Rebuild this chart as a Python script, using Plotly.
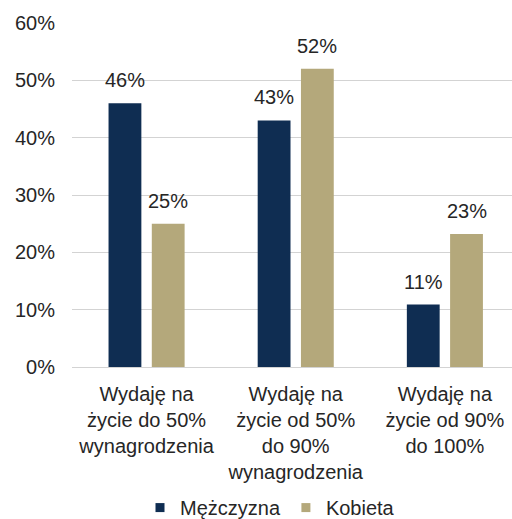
import plotly.graph_objects as go

categories = [
    "Wydaję na<br>życie do 50%<br>wynagrodzenia",
    "Wydaję na<br>życie od 50%<br>do 90%<br>wynagrodzenia",
    "Wydaję na<br>życie od 90%<br>do 100%",
]
men = [0.46, 0.43, 0.109]
women = [0.25, 0.52, 0.232]
series_names = ["Mężczyzna", "Kobieta"]
colors = ["#0F2D52", "#B4A87B"]

xpos = list(range(len(categories)))
bar_w = 0.22
offsets = [-0.255, 0.035]

fig = go.Figure()
for name, vals, color, off in zip(series_names, [men, women], colors, offsets):
    fig.add_trace(
        go.Bar(
            x=xpos,
            y=vals,
            name=name,
            width=bar_w,
            offset=off,
            marker=dict(color=color, line=dict(width=0)),
            showlegend=False,
        )
    )
    # small square legend key
    fig.add_trace(
        go.Scatter(
            x=[None],
            y=[None],
            mode="markers",
            name=name,
            marker=dict(symbol="square", size=9, color=color),
        )
    )
    for x, v in zip(xpos, vals):
        fig.add_annotation(
            x=x + off + bar_w / 2,
            y=v,
            text=f"{v:.0%}",
            showarrow=False,
            yanchor="bottom",
            yshift=10,
            font=dict(size=20, color="#262626"),
        )

fig.update_layout(
    width=512,
    height=519,
    margin=dict(l=72, r=0, t=23, b=152),
    plot_bgcolor="white",
    paper_bgcolor="white",
    font=dict(family="Liberation Sans, Arial, sans-serif", size=20, color="#262626"),
    barmode="overlay",
    showlegend=True,
    legend=dict(
        orientation="h",
        x=0.45,
        xanchor="center",
        yref="container",
        y=0.022,
        yanchor="middle",
        font=dict(size=20),
        itemwidth=30,
        tracegroupgap=0,
        bgcolor="rgba(0,0,0,0)",
    ),
    xaxis=dict(
        tickmode="array",
        tickvals=xpos,
        ticktext=categories,
        range=[-0.5, 2.45],
        showgrid=False,
        zeroline=False,
        ticks="",
        ticklabelstandoff=13,
        automargin=False,
    ),
    yaxis=dict(
        range=[0, 0.6],
        dtick=0.1,
        tickformat=".0%",
        showgrid=True,
        gridcolor="#D3D3D3",
        gridwidth=1,
        zeroline=True,
        zerolinecolor="#D3D3D3",
        zerolinewidth=1,
        ticks="",
        ticklabelstandoff=16,
        automargin=False,
    ),
)

fig.write_html(
    "out.html",
    config={"displayModeBar": False},
    post_script="document.body.style.margin='0';",
)
